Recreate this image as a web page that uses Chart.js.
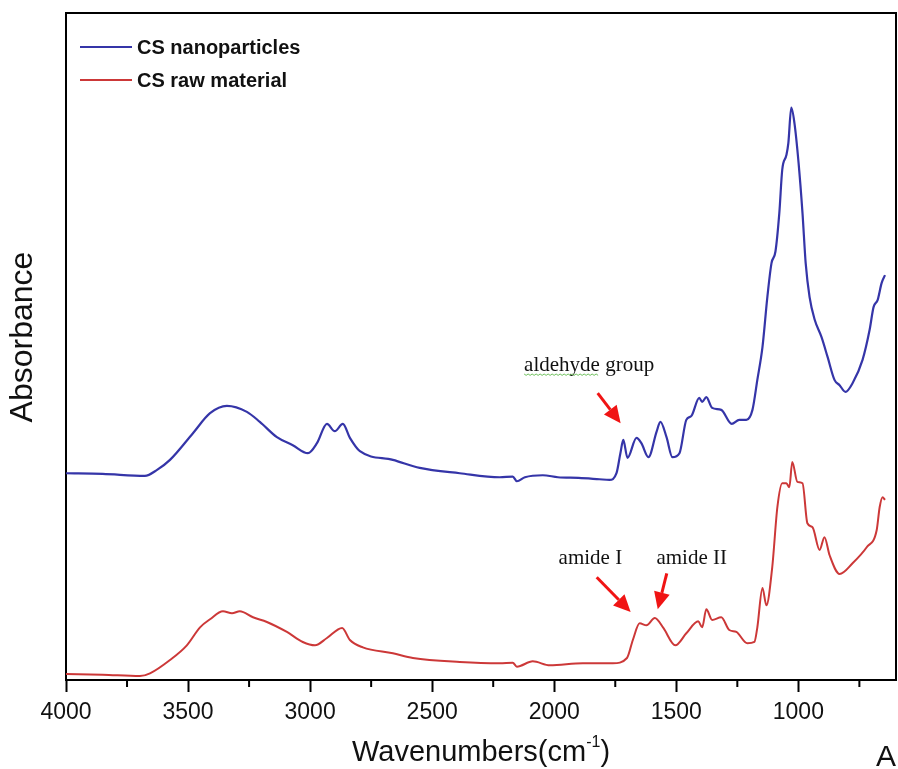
<!DOCTYPE html>
<html>
<head>
<meta charset="utf-8">
<script src="https://cdn.jsdelivr.net/npm/chart.js@4.4.1/dist/chart.umd.min.js"></script>
<style>
  html, body { margin: 0; padding: 0; background: #fff; }
  #wrap { width: 898px; height: 769px; }
</style>
</head>
<body>
<div id="wrap"><canvas id="ftir" width="898" height="769"></canvas></div>
<script>
// FTIR spectra: chitosan nanoparticles vs raw chitosan

const majorTicks = [4000, 3500, 3000, 2500, 2000, 1500, 1000];
const minorTicks = [3750, 3250, 2750, 2250, 1750, 1250, 750];

// CS nanoparticles (offset spectrum, arbitrary absorbance units)
const nanoWave = [4000, 3850, 3677, 3627, 3574, 3480, 3410, 3341, 3259, 3206, 3136, 3071, 3009, 2972, 2931, 2899, 2866, 2837, 2796, 2661,
  2551, 2387, 2223, 2170, 2153, 2120, 2047, 1985, 1900, 1815, 1774, 1745, 1729, 1717, 1700, 1663, 1643, 1614, 1581, 1565,
  1540, 1516, 1487, 1459, 1438, 1406, 1394, 1377, 1353, 1316, 1273, 1242, 1213, 1188, 1168, 1147, 1127, 1110, 1094, 1078,
  1066, 1049, 1041, 1029, 1016, 999, 983, 970, 954, 933, 905, 880, 852, 831, 807, 778, 737, 708, 692, 675, 659, 645];
const nanoAbs = [31.0, 30.9, 30.6, 31.5, 33.0, 37.0, 40.0, 41.1, 40.2, 38.7, 36.4, 35.2, 34.0, 35.5, 38.4, 37.3, 38.4, 36.3, 34.3, 33.0,
  31.8, 31.0, 30.4, 30.5, 29.8, 30.4, 30.7, 30.4, 30.3, 30.1, 30.0, 31.0, 34.0, 36.0, 33.3, 36.3, 35.5, 33.4, 37.2, 38.7,
  36.4, 33.4, 34.0, 39.0, 39.6, 42.3, 41.7, 42.4, 40.8, 40.5, 38.4, 39.0, 39.0, 40.5, 45.0, 49.9, 57.4, 62.5, 64.2, 70.0,
  76.5, 78.7, 80.5, 85.8, 83.5, 77.5, 70.0, 62.5, 57.4, 54.0, 51.4, 48.4, 45.0, 44.2, 43.2, 44.5, 48.0, 52.5, 55.9, 57.0, 59.5, 60.7];

// CS raw material
const rawWave = [4000, 3850, 3697, 3656, 3574, 3505, 3451, 3410, 3357, 3320, 3288, 3234, 3177, 3095, 3030, 2980, 2931, 2869, 2837, 2784,
  2661, 2579, 2387, 2223, 2170, 2153, 2088, 2018, 1883, 1760, 1702, 1678, 1650, 1622, 1588, 1553, 1504, 1459, 1410, 1394,
  1377, 1353, 1316, 1283, 1254, 1209, 1180, 1168, 1147, 1131, 1107, 1086, 1066, 1049, 1037, 1025, 1004, 983, 963, 942,
  913, 893, 872, 831, 778, 720, 679, 667, 655, 645];
const rawAbs = [0.9, 0.8, 0.6, 1.0, 3.0, 5.2, 7.9, 9.1, 10.3, 10.0, 10.3, 9.4, 8.7, 7.2, 5.7, 5.2, 6.3, 7.8, 6.0, 4.9,
  4.0, 3.3, 2.7, 2.5, 2.6, 2.0, 2.8, 2.2, 2.5, 2.5, 3.3, 6.0, 8.5, 8.2, 9.3, 7.8, 5.2, 7.0, 8.8, 7.9,
  10.6, 9.0, 9.4, 7.5, 7.2, 5.5, 5.7, 7.9, 13.8, 11.2, 16.9, 25.9, 29.5, 29.5, 28.9, 32.7, 29.7, 29.5, 23.5, 22.9,
  19.5, 21.4, 18.7, 15.9, 17.5, 19.9, 22.5, 25.9, 27.4, 27.0];

// band labels: text, wavenumber (centre), absorbance (baseline)
const bandLabels = [
  ['aldehyde group', 1857, 46.3],
  ['amide I', 1852, 17.4],
  ['amide II', 1437, 17.4],
];
// arrows: from (wavenumber, abs) to (wavenumber, abs)
const bandArrows = [
  [1822, 43.0, 1728, 38.5],
  [1826, 15.4, 1687, 10.2],
  [1539, 16.0, 1576, 10.6],
];

const toPoints = (w, a) => w.map((v, i) => ({ x: v, y: a[i] }));

const SANS = '"Liberation Sans", Arial, sans-serif';
const SERIF = '"Liberation Serif", "Times New Roman", serif';

function drawArrow(ctx, x1, y1, x2, y2) {
  const ang = Math.atan2(y2 - y1, x2 - x1);
  const head = 17, half = 8;
  const bx = x2 - Math.cos(ang) * head, by = y2 - Math.sin(ang) * head;
  ctx.strokeStyle = '#f01414';
  ctx.fillStyle = '#f01414';
  ctx.lineWidth = 3;
  ctx.beginPath();
  ctx.moveTo(x1, y1);
  ctx.lineTo(bx, by);
  ctx.stroke();
  ctx.beginPath();
  ctx.moveTo(x2, y2);
  ctx.lineTo(bx + Math.sin(ang) * half, by - Math.cos(ang) * half);
  ctx.lineTo(bx - Math.sin(ang) * half, by + Math.cos(ang) * half);
  ctx.closePath();
  ctx.fill();
}

const decor = {
  id: 'decor',
  afterDraw(chart) {
    const { ctx, chartArea: a } = chart;
    const x = chart.scales.x, y = chart.scales.y;
    ctx.save();

    // top and right frame
    ctx.strokeStyle = '#000';
    ctx.lineWidth = 2;
    ctx.beginPath();
    ctx.moveTo(a.left, a.top);
    ctx.lineTo(a.right, a.top);
    ctx.lineTo(a.right, a.bottom);
    ctx.stroke();

    // minor ticks
    ctx.beginPath();
    minorTicks.forEach(v => {
      const px = x.getPixelForValue(v);
      ctx.moveTo(px, a.bottom);
      ctx.lineTo(px, a.bottom + 7);
    });
    ctx.stroke();

    // legend inside the frame
    ctx.font = 'bold 20px ' + SANS;
    ctx.textBaseline = 'middle';
    ctx.textAlign = 'left';
    chart.data.datasets.forEach((ds, i) => {
      const ly = a.top + 34 + i * 33;
      ctx.strokeStyle = ds.borderColor;
      ctx.lineWidth = 2;
      ctx.beginPath();
      ctx.moveTo(a.left + 14, ly);
      ctx.lineTo(a.left + 66, ly);
      ctx.stroke();
      ctx.fillStyle = '#111';
      ctx.fillText(ds.label, a.left + 71, ly + 1);
    });

    // band labels and arrows
    ctx.font = '21px ' + SERIF;
    ctx.textBaseline = 'alphabetic';
    ctx.textAlign = 'center';
    bandLabels.forEach(([t, w, v]) => {
      ctx.fillStyle = '#111';
      const cx = x.getPixelForValue(w), cy = y.getPixelForValue(v);
      ctx.fillText(t, cx, cy);
      if (t.startsWith('aldehyde')) {
        // spell-check squiggle under the first word
        const full = ctx.measureText(t).width;
        const ww = ctx.measureText('aldehyde').width;
        const sx = cx - full / 2;
        ctx.strokeStyle = '#6cbf5a';
        ctx.lineWidth = 1;
        ctx.beginPath();
        for (let k = 0; k <= ww; k += 2) {
          const yy = cy + 3 + ((k / 2) % 2 ? 1.2 : -0.2);
          if (k === 0) ctx.moveTo(sx + k, yy); else ctx.lineTo(sx + k, yy);
        }
        ctx.stroke();
      }
    });
    bandArrows.forEach(([w1, v1, w2, v2]) => {
      drawArrow(ctx, x.getPixelForValue(w1), y.getPixelForValue(v1),
        x.getPixelForValue(w2), y.getPixelForValue(v2));
    });

    // axis titles
    ctx.fillStyle = '#111';
    ctx.textAlign = 'left';
    ctx.textBaseline = 'alphabetic';
    const main = 'Wavenumbers(cm', sup = '-1', close = ')';
    ctx.font = '29px ' + SANS;
    const w1 = ctx.measureText(main).width, w3 = ctx.measureText(close).width;
    ctx.font = '16px ' + SANS;
    const w2 = ctx.measureText(sup).width;
    let sx = (a.left + a.right) / 2 - (w1 + w2 + w3) / 2;
    const base = 761;
    ctx.font = '29px ' + SANS;
    ctx.fillText(main, sx, base);
    ctx.font = '16px ' + SANS;
    ctx.fillText(sup, sx + w1, base - 14);
    ctx.font = '29px ' + SANS;
    ctx.fillText(close, sx + w1 + w2, base);

    ctx.textAlign = 'right';
    ctx.font = '30px ' + SANS;
    ctx.fillText('A', a.right, 766);

    ctx.save();
    ctx.translate(23, 337);
    ctx.rotate(-Math.PI / 2);
    ctx.textAlign = 'center';
    ctx.textBaseline = 'middle';
    ctx.font = '32px ' + SANS;
    ctx.fillText('Absorbance', 0, 0);
    ctx.restore();

    ctx.restore();
  }
};

new Chart(document.getElementById('ftir'), {
  type: 'line',
  data: {
    datasets: [
      {
        label: 'CS nanoparticles',
        data: toPoints(nanoWave, nanoAbs),
        borderColor: '#3535a8',
        borderWidth: 2.2,
        pointRadius: 0,
        fill: false,
        cubicInterpolationMode: 'monotone',
      },
      {
        label: 'CS raw material',
        data: toPoints(rawWave, rawAbs),
        borderColor: '#cc3838',
        borderWidth: 2,
        pointRadius: 0,
        fill: false,
        cubicInterpolationMode: 'monotone',
      },
    ]
  },
  options: {
    responsive: false,
    animation: false,
    layout: { padding: { top: 13, right: 2, left: 0, bottom: 0 } },
    plugins: { legend: { display: false }, tooltip: { enabled: false } },
    scales: {
      x: {
        type: 'linear',
        position: 'bottom',
        reverse: true,
        min: 600,
        max: 4000,
        afterBuildTicks: (scale) => { scale.ticks = majorTicks.map(v => ({ value: v })); },
        afterFit: (scale) => { scale.height = 89; },
        ticks: {
          color: '#111',
          font: { family: SANS, size: 23 },
          padding: 7,
          maxRotation: 0,
          autoSkip: false,
          callback: (v) => String(v),
        },
        grid: { display: true, drawOnChartArea: false, drawTicks: true, tickLength: 12, tickWidth: 2, tickColor: '#000' },
        border: { display: true, color: '#000', width: 2 },
      },
      y: {
        min: 0,
        max: 100,
        afterFit: (scale) => { scale.width = 66; },
        ticks: { display: false },
        grid: { display: false },
        border: { display: true, color: '#000', width: 2 },
      }
    }
  },
  plugins: [decor]
});
</script>
</body>
</html>
